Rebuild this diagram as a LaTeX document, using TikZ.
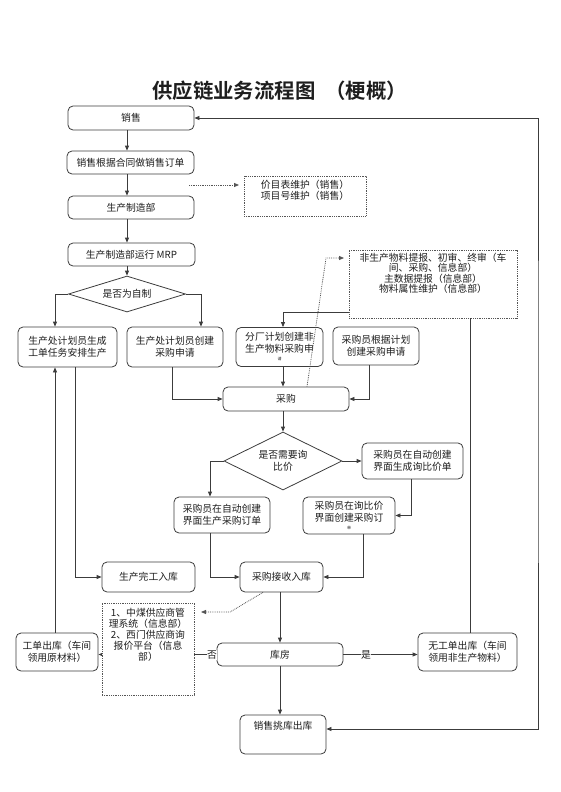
\documentclass[tikz,border=0pt]{standalone}
\usepackage{fontspec}
\setmainfont{Noto Sans CJK SC}
\IfFontExistsTF{Noto Sans CJK SC Bold}{\newfontfamily\titlefont{Noto Sans CJK SC Bold}}{\newfontfamily\titlefont[FakeBold=2]{Noto Sans CJK SC}}
\usetikzlibrary{shapes.geometric,arrows.meta,calc}
\definecolor{linec}{HTML}{3C3C3C}
\definecolor{dotc}{HTML}{555555}
\definecolor{txt}{HTML}{1E1E1E}
\begin{document}
\begin{tikzpicture}[x=1pt,y=-1pt,
  every node/.style={font=\fontsize{9.8}{12}\selectfont, text=txt},
  box/.style={draw=linec, rounded corners=5pt, line width=0.8pt, align=center, inner sep=1pt, fill=white},
  dbox/.style={draw=dotc, densely dotted, line width=0.8pt, fill=white, inner sep=0pt},
  dec/.style={draw=linec, diamond, line width=0.8pt, align=center, inner sep=0pt, fill=white},
  arr/.style={draw=linec, line width=0.8pt, -{Triangle[length=5pt,width=4pt]}},
  barr/.style={draw=linec, line width=0.8pt, {Triangle[length=5pt,width=4pt]}-{Triangle[length=5pt,width=4pt]}},
  ln/.style={draw=linec, line width=0.8pt},
  darr/.style={draw=dotc, densely dotted, line width=0.8pt, -{Triangle[length=5pt,width=4pt]}},
  sz/.style 2 args={minimum width=#1pt, minimum height=#2pt},
  inner/.style={anchor=north, align=center, inner sep=1pt},
  lbl/.style={fill=white, inner sep=0.5pt}]
\useasboundingbox (0,0) rectangle (560,792);

% title
\node[anchor=west, inner sep=0pt, font=\titlefont\fontsize{20.4}{24}\selectfont] (title) at (152,91) {供应链业务流程图\hspace{10pt}（梗概）};

% main column
\node[box,sz={126}{24}] (sales) at (131,118) {销售};
\node[box,sz={127}{23}] (order) at (130.5,162.5) {销售根据合同做销售订单};
\node[box,sz={126}{23}] (mfg) at (131,207.5) {生产制造部};
\node[box,sz={127}{23}] (mrp) at (131.5,254.5) {生产制造部运行 MRP};
\node[dec,sz={117}{36},aspect=3.25] (d1) at (127,294) {是否为自制};

\node[box,sz={99}{40}] (wo) at (67.5,347) {生产处计划员生成\\工单任务安排生产};
\node[box,sz={96}{40}] (pr1) at (175,347) {生产处计划员创建\\采购申请};
\node[box,sz={87}{39}] (pr2) at (279.5,347) {分厂计划创建非\\生产物料采购申\\[-4pt]{\fontsize{4}{4}\selectfont 请}};
\node[box,sz={86}{38}] (pr3) at (376,346) {采购员根据计划\\创建采购申请};

\node[box,sz={126}{24}] (pur) at (286,399) {采购};
\node[dec,sz={118}{58},aspect=2.03] (d2) at (283,461) {是否需要询\\比价};
\node[box,sz={101}{36}] (rfq) at (412.5,461) {采购员在自动创建\\界面生成询比价单};
\node[box,sz={96}{36}] (po1) at (222,515) {采购员在自动创建\\界面生产采购订单};
\node[box,sz={92}{37}] (po2) at (349,515.5) {采购员在询比价\\界面创建采购订\\[-4pt]{\fontsize{4}{4}\selectfont 单}};

\node[box,sz={93}{30}] (fin) at (148.5,577) {生产完工入库};
\node[box,sz={83}{30}] (recv) at (281.5,577) {采购接收入库};
\node[box,sz={82}{38}] (wout) at (57,652) {工单出库（车间\\领用原材料）};
\node[box,sz={126}{23}] (wh) at (280,654.5) {库房};
\node[box,sz={99}{38}] (nwout) at (467.5,652) {无工单出库（车间\\领用非生产物料）};
\node[box,sz={86}{39}] (pick) at (283,734.5) {};
\node[inner] (pickt) at ([yshift=-5pt]pick.north) {销售挑库出库};

% dotted note boxes (upper)
\node[dbox,sz={122}{40}] (price) at (305,196) {};
\node[inner,font=\fontsize{9.8}{11}\selectfont] (pricet) at ([yshift=-3pt]price.north) {价目表维护（销售）\\项目号维护（销售）};
\node[dbox,sz={168}{68}] (np) at (433,284) {};
\node[inner,font=\fontsize{9.8}{10.6}\selectfont] (npt) at ([yshift=-2pt]np.north) {非生产物料提报、初审、终审（车\\间、采购、信息部）\\主数据提报（信息部）\\物料属性维护（信息部）};

% connectors
\draw[arr] (sales.south -| d1.north) -- (order.north -| d1.north);
\draw[arr] (order.south -| d1.north) -- (mfg.north -| d1.north);
\draw[arr] (mfg.south -| d1.north) -- (mrp.north -| d1.north);
\draw[arr] (mrp.south -| d1.north) -- (d1.north);
\draw[arr] (d1.west) -| ([xshift=-12.5pt]wo.north);
\draw[arr] (d1.east) -| ([xshift=26pt]pr1.north);
\draw[arr] ([xshift=-3pt]pr1.south) |- (pur.west);
\draw[arr] ([xshift=3.5pt]pr2.south) -- ([xshift=-3pt]pur.north);
\draw[arr] ([xshift=-7pt]pr3.south) |- (pur.east);
\draw[arr] (pur.south -| d2.north) -- (d2.north);
\draw[arr] (d2.east) -- (rfq.west);
\draw[arr] (d2.west) -| ([xshift=-12pt]po1.north);
\draw[arr] ([xshift=-1.5pt]rfq.south) |- (po2.east);
\draw[arr] ([xshift=-12pt]po1.south) |- (recv.west);
\draw[arr] ([xshift=14pt]po2.south) |- (recv.east);
\draw[arr] ([xshift=7.5pt]wo.south) |- (fin.west);
\draw[arr] ([xshift=-2pt]wout.north) -- ([xshift=-12.5pt]wo.south);
\draw[arr] ([xshift=-1.5pt]recv.south) -- (wh.north);
\draw[arr] (wh.west) -- (wh.west -| wout.east);
\draw[arr] (wh.east) -- (wh.east -| nwout.west);
\draw[arr] (wh.south) -- (wh.south |- pick.north);
\draw[ln] ([xshift=37pt]np.south) -- ([xshift=37pt]np.south |- nwout.north);
\draw[arr] ([yshift=-28pt]np.west) -| ([xshift=3.5pt]pr2.north);
\coordinate (loop) at (538,400);
\draw[barr] ([yshift=5.5pt]pick.east) -| (loop) |- (sales.east);

% dotted connectors
\coordinate (pa) at (189,185);
\coordinate (pb) at (239,185);
\draw[darr] (pa) -- (pb);
\coordinate (bend1) at (326,258);
\coordinate (npin) at (344,258);
\draw[darr] ([xshift=21pt]pur.north) -- (bend1) -- (npin);
\coordinate (bend2) at (230,612);
\coordinate (sysin) at (201,612);
\draw[darr] ([xshift=-18.5pt]recv.south) -- (bend2) -- (sysin);

% lower dotted note box (covers the 否 line)
\node[dbox,sz={92}{92}] (sys) at (148,649) {};
\node[inner,font=\fontsize{9.8}{11.2}\selectfont] (syst) at ([yshift=-4pt]sys.north) {1、中煤供应商管\\理系统（信息部）\\2、西门供应商询\\报价平台（信息\\部）};

% branch labels
\node[lbl] (no) at (212,655) {否};
\node[lbl] (yes) at (366,655) {是};
\end{tikzpicture}
\end{document}
